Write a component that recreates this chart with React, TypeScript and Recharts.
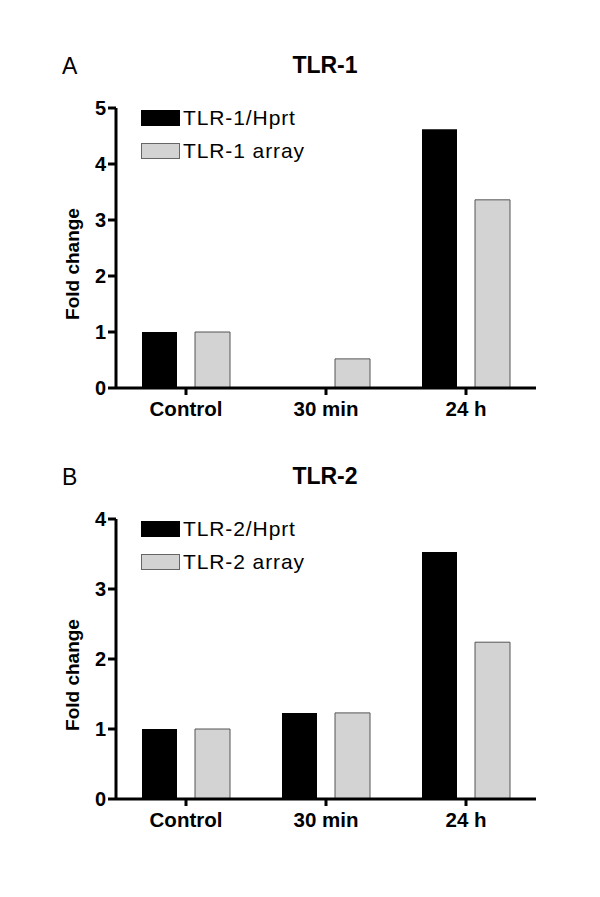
import React from 'react';
import { BarChart, Bar, XAxis, YAxis, Legend } from 'recharts';

const categories = ['Control', '30 min', '24 h'];
const tlr1Hprt = [1.0, 0, 4.62];
const tlr1Array = [1.0, 0.52, 3.36];
const tlr2Hprt = [1.0, 1.23, 3.53];
const tlr2Array = [1.0, 1.23, 2.24];
const tlr1Ticks = [0, 1, 2, 3, 4, 5];
const tlr2Ticks = [0, 1, 2, 3, 4];

const FONT = "Arial, 'Liberation Sans', sans-serif";

type PanelProps = {
  top: number;
  letter: string;
  title: string;
  hprt: number[];
  arr: number[];
  hprtName: string;
  arrName: string;
  ticks: number[];
};

const LegendBox = ({ items }: { items: { name: string; fill: string; stroke: string }[] }) => (
  <div style={{ fontFamily: FONT }}>
    {items.map((it, i) => (
      <div key={i} style={{ display: 'flex', alignItems: 'flex-start', height: 16, marginBottom: 17 }}>
        <div
          style={{
            width: it.stroke === 'none' ? 39 : 37,
            height: it.stroke === 'none' ? 16 : 14,
            background: it.fill,
            border: it.stroke === 'none' ? 'none' : `1px solid ${it.stroke}`,
          }}
        />
        <span style={{ marginLeft: 3, fontSize: 21, lineHeight: '16px', color: '#000', whiteSpace: 'nowrap', letterSpacing: 0.9 }}>
          {it.name}
        </span>
      </div>
    ))}
  </div>
);

const Panel = ({ top, letter, title, hprt, arr, hprtName, arrName, ticks }: PanelProps) => {
  const data = categories.map((c, i) => ({ cat: c, hprt: hprt[i], arr: arr[i] }));
  const max = ticks[ticks.length - 1];
  return (
    <div style={{ position: 'absolute', left: 0, top, width: 600, height: 440 }}>
      <div style={{ position: 'absolute', left: 62, top: 55, fontFamily: FONT, fontSize: 23, lineHeight: 1 }}>{letter}</div>
      <div
        style={{
          position: 'absolute',
          left: 325,
          top: 54,
          transform: 'translateX(-50%)',
          fontFamily: FONT,
          fontSize: 23,
          fontWeight: 'bold',
          lineHeight: 1,
          whiteSpace: 'nowrap',
        }}
      >
        {title}
      </div>
      <div
        style={{
          position: 'absolute',
          left: 72,
          top: 264,
          transform: 'translate(-50%, -50%) rotate(-90deg)',
          fontFamily: FONT,
          fontSize: 19,
          fontWeight: 'bold',
          lineHeight: 1,
          whiteSpace: 'nowrap',
        }}
      >
        Fold change
      </div>
      <BarChart
        width={600}
        height={440}
        data={data}
        margin={{ top: 108, right: 64, left: 56, bottom: 22 }}
        barSize={35}
        barGap={18}
      >
        <XAxis
          dataKey="cat"
          height={30}
          axisLine={{ stroke: '#000', strokeWidth: 3 }}
          tickLine={{ stroke: '#000', strokeWidth: 3 }}
          tickSize={7}
          tickMargin={6}
          tick={{ fill: '#000', fontFamily: FONT, fontSize: 20.5, fontWeight: 'bold' }}
        />
        <YAxis
          width={60}
          domain={[0, max]}
          ticks={ticks}
          interval={0}
          axisLine={{ stroke: '#000', strokeWidth: 3 }}
          tickLine={{ stroke: '#000', strokeWidth: 3 }}
          tickSize={8}
          tickMargin={2}
          tick={{ fill: '#000', fontFamily: FONT, fontSize: 20, fontWeight: 'bold' }}
        />
        <Legend
          layout="vertical"
          align="center"
          verticalAlign="middle"
          wrapperStyle={{ top: 110, left: 141, width: 'auto' }}
          content={() => (
            <LegendBox
              items={[
                { name: hprtName, fill: '#000', stroke: 'none' },
                { name: arrName, fill: '#d3d3d3', stroke: '#666' },
              ]}
            />
          )}
        />
        <Bar dataKey="hprt" name={hprtName} fill="#000" isAnimationActive={false} />
        <Bar dataKey="arr" name={arrName} fill="#d3d3d3" stroke="#555" strokeWidth={1} isAnimationActive={false} />
      </BarChart>
    </div>
  );
}

export default function App() {
  return (
    <div style={{ position: 'absolute', left: 0, top: 0, width: 600, height: 897, background: '#fff' }}>
      <Panel
        top={0}
        letter="A"
        title="TLR-1"
        hprt={tlr1Hprt}
        arr={tlr1Array}
        hprtName="TLR-1/Hprt"
        arrName="TLR-1 array"
        ticks={tlr1Ticks}
      />
      <Panel
        top={411}
        letter="B"
        title="TLR-2"
        hprt={tlr2Hprt}
        arr={tlr2Array}
        hprtName="TLR-2/Hprt"
        arrName="TLR-2 array"
        ticks={tlr2Ticks}
      />
    </div>
  );
}
